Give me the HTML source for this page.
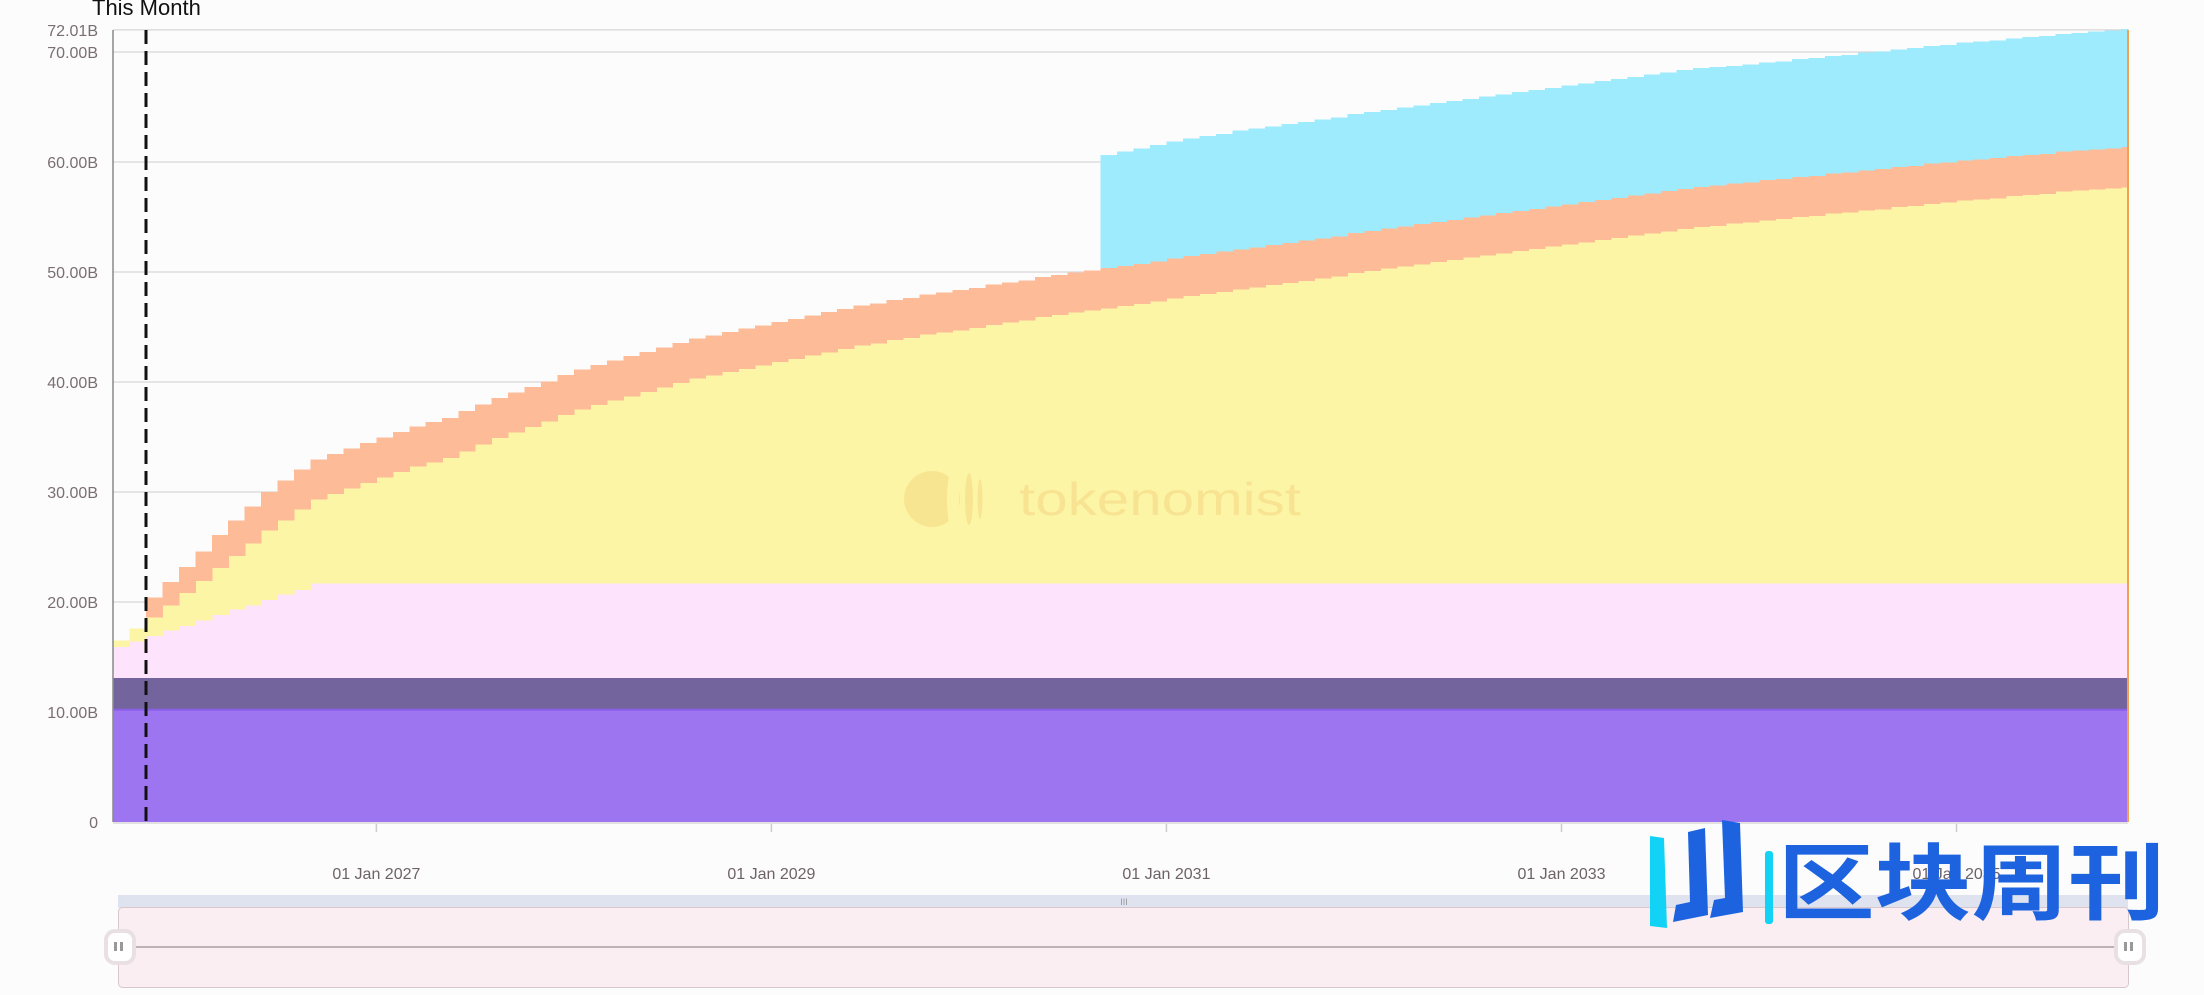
<!DOCTYPE html>
<html><head><meta charset="utf-8"><style>
html,body{margin:0;padding:0;background:#fcfcfc;width:2204px;height:995px;overflow:hidden;}
svg{display:block;font-family:"Liberation Sans","Noto Sans CJK SC",sans-serif;}
</style></head><body>
<svg id="chart" width="2204" height="995" viewBox="0 0 2204 995">
<rect x="0" y="0" width="2204" height="995" fill="#fcfcfc"/>
<g id="grid"></g>
<g id="series"></g>
<g id="axes"></g>
<g opacity="0.45">
<circle cx="932" cy="499" r="28" fill="#f3d27a"/>
<ellipse cx="953" cy="499" rx="6" ry="31" fill="#fdf5a6"/>
<ellipse cx="969" cy="499" rx="4" ry="26" fill="#f3d27a"/>
<ellipse cx="980" cy="499" rx="2.5" ry="20" fill="#f3d27a"/>
<text x="1019" y="515" font-size="46" textLength="282" lengthAdjust="spacingAndGlyphs" fill="#f0cf7a">tokenomist</text>
</g>
<text x="92" y="15" font-size="22" fill="#111">This Month</text>
<line x1="146" y1="30" x2="146" y2="822" stroke="#111" stroke-width="3" stroke-dasharray="14,7"/>
<g>
<rect x="118" y="895" width="2010" height="13" fill="#dfe3f0"/>
<text x="1124" y="905" font-size="9" fill="#999" text-anchor="middle">III</text>
<rect x="118.5" y="907.5" width="2010" height="80" rx="4" fill="#fbeef2" stroke="#d8c8cc"/>
<line x1="120" y1="947" x2="2128" y2="947" stroke="#a89ea0" stroke-width="1.5"/>
<g>
<rect x="106" y="931" width="28" height="32" rx="9" fill="#fff" stroke="#e8e0e2" stroke-width="4"/>
<rect x="114" y="942" width="3" height="9" fill="#999"/><rect x="120" y="942" width="3" height="9" fill="#999"/>
</g>
<g>
<rect x="2116" y="931" width="28" height="32" rx="9" fill="#fff" stroke="#e8e0e2" stroke-width="4"/>
<rect x="2124" y="942" width="3" height="9" fill="#999"/><rect x="2130" y="942" width="3" height="9" fill="#999"/>
</g>
</g>
<g>
<polygon points="1650,836 1664,838 1667,928 1650,926" fill="#12d3f5"/>
<polygon points="1688,832 1705,828 1708,915 1673,922 1676,905 1690,902" fill="#1d63df"/>
<polygon points="1722,820 1740,823 1743,912 1710,918 1714,900 1725,898" fill="#1d63df"/>
<rect x="1765" y="851" width="8" height="73" rx="3" fill="#12d3f5"/>
<text x="1778" y="913" font-size="84" font-weight="bold" textLength="387" lengthAdjust="spacingAndGlyphs" fill="#1d63df">区块周刊</text>
</g>
</svg>
<script>
// ---- data (billions, per month) ----
const startYear = 2025;
const startMonth = 8; // Sep (0-based)
const purpleVals = Array(123).fill(10.2);
const darkPurpleVals = Array(123).fill(2.9);
const pinkVals = [2.8,3.3,3.8,4.3,4.7,5.2,5.7,6.2,6.6,7.1,7.6,8.0].concat(Array(111).fill(8.6));
const yellowVals = [0.6,1.2,1.7,2.3,3.0,3.6,4.3,4.9,5.6,6.3,6.7,7.3,
7.6,8.1,8.6,9.1,9.6,10.1,10.6,11.0,11.4,12.0,12.6,13.2,13.7,14.2,14.7,15.3,
15.8,16.2,16.6,17.0,17.4,17.8,18.2,18.6,18.9,19.2,19.5,19.8,20.1,20.4,20.7,21.0,21.3,
21.6,21.8,22.1,22.3,22.6,22.8,23.0,23.2,23.5,23.7,23.9,24.2,24.4,24.6,24.8,25.0,
25.2,25.4,25.6,25.9,26.1,26.3,26.5,26.7,26.9,27.1,27.3,27.5,27.7,27.9,28.2,28.4,28.6,28.8,29.0,
29.2,29.4,29.6,29.8,30.0,30.2,30.4,30.6,30.8,31.0,31.2,31.4,31.6,31.8,32.0,32.2,
32.4,32.5,32.7,32.8,33.0,33.1,33.3,33.4,33.6,33.7,33.9,34.0,34.2,34.3,34.5,34.6,34.8,
34.9,35.0,35.2,35.3,35.4,35.6,35.7,35.8,35.9,36.0];
const orangeVals = [0,0,1.8,2.1,2.4,2.7,3.0,3.2,3.4,3.5].concat(Array(113).fill(3.65));
const cyanVals = Array(60).fill(0).concat([10.3,10.4,10.5,10.6,10.6,10.7,10.7,10.7,10.8,10.8,
10.8,10.8,10.8,10.8,10.8,10.8,10.8,10.8,10.8,10.8,10.8,10.8,10.8,10.8,10.8,10.8,10.8,10.8,
10.8,10.8,10.8,10.8,10.8,10.8,10.8,10.8,10.8,10.8,10.7,10.7,10.7,10.7,10.7,10.7,10.7,10.7,
10.7,10.7,10.7,10.7,10.7,10.7,10.7,10.7,10.7,10.7,10.7,10.7,10.7,10.7,10.7,10.7,10.76]);
const yTickVals = [0,10,20,30,40,50,60,70,72.01];
const yTickLabels = ["0","10.00B","20.00B","30.00B","40.00B","50.00B","60.00B","70.00B","72.01B"];
const xTickYears = [2027,2029,2031,2033,2035];
const xTickLabels = ["01 Jan 2027","01 Jan 2029","01 Jan 2031","01 Jan 2033","01 Jan 2035"];

// ---- scales ----
const L=113,R=2128,B=822,PX_PER_B=11,MONTH_PX=16.46;
function xScale(monthIdx){return L+monthIdx*MONTH_PX;}
function yScale(v){return B-v*PX_PER_B;}
function monthIndexOf(year,month){return (year-startYear)*12+(month-startMonth);}
const NS="http://www.w3.org/2000/svg";
function mk(tag,attrs,parent){const e=document.createElementNS(NS,tag);for(const k in attrs)e.setAttribute(k,attrs[k]);parent.appendChild(e);return e;}

// grid + y labels
const grid=document.getElementById('grid');
yTickVals.forEach((v,i)=>{
  if(v>0){const ln=mk('line',{x1:L,x2:R,y1:yScale(v),y2:yScale(v),stroke:'#d9d5d7','stroke-width':1.3},grid);
  
  }
  const t=mk('text',{x:98,y:yScale(v)+6,'font-size':16,fill:'#7a6e72','text-anchor':'end'},grid);
  t.textContent=yTickLabels[i];
  
  
});

// stacked series
const seriesDefs=[[purpleVals,'#9d75f0','purple-unlocked'],[darkPurpleVals,'#74649e','dark-purple-allocation'],[pinkVals,'#fde4fc','pink-allocation'],[yellowVals,'#fdf5a6','yellow-allocation'],[orangeVals,'#fdbc97','orange-allocation'],[cyanVals,'#9eebfd','cyan-allocation']];
const n=purpleVals.length;
const base=Array(n).fill(0);
const sg=document.getElementById('series');
seriesDefs.forEach(([vals,color,name])=>{
  let d='';
  for(let i=0;i<n;i++){
    const v=vals[i]; if(!v){continue;}
    const x0=xScale(i),x1=Math.min(xScale(i+1),R);
    if(x0>=R)continue;
    const y0=yScale(base[i]),y1=yScale(base[i]+v);
    d+=`M${x0},${y1}H${x1+0.6}V${y0}H${x0}Z`;
  }
  const p=mk('path',{d:d,fill:color,'shape-rendering':'crispEdges'},sg);
  
  
  for(let i=0;i<n;i++)base[i]+=vals[i];
});
// purple top edge line
const pe=mk('line',{x1:L,x2:R,y1:yScale(purpleVals[0]),y2:yScale(purpleVals[0]),stroke:'#8a5ee8','stroke-width':2},sg);



// axes
const ax=document.getElementById('axes');
const ya=mk('line',{x1:L,x2:L,y1:30,y2:B,stroke:'#8a8a8a','stroke-width':1.5},ax);


const xa=mk('line',{x1:L,x2:R,y1:B+1,y2:B+1,stroke:'#d8d8d8','stroke-width':1.5},ax);


const re=mk('line',{x1:R,x2:R,y1:30,y2:B,stroke:'#f5a04a','stroke-width':2},ax);


xTickYears.forEach((yr,i)=>{
  const x=xScale(monthIndexOf(yr,0));
  const tk=mk('line',{x1:x,x2:x,y1:B+2,y2:B+10,stroke:'#ccc','stroke-width':1.5},ax);
  
  
  const t=mk('text',{x:x,y:879,'font-size':16,fill:'#6e6266','text-anchor':'middle'},ax);
  t.textContent=xTickLabels[i];
  
  
});
</script>
</body></html>
